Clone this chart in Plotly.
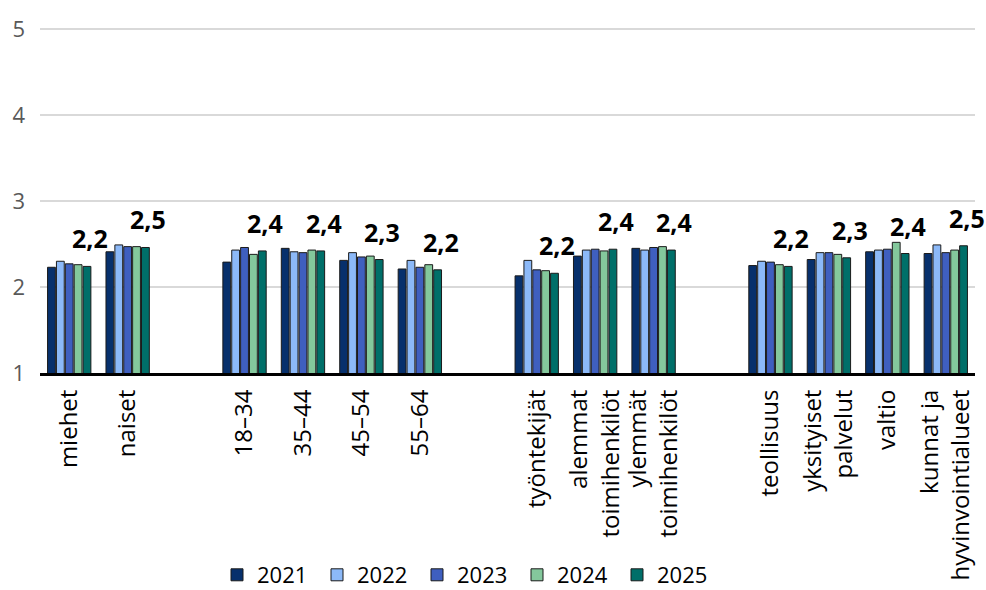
import plotly.graph_objects as go

# Category groups along the x axis (a blank slot separates the groups)
gender = ["miehet", "naiset"]
age = ["18–34", "35–44", "45–54", "55–64"]
occupation = ["työntekijät", "alemmat<br>toimihenkilöt", "ylemmät<br>toimihenkilöt"]
sector = ["teollisuus", "yksityiset<br>palvelut", "valtio", "kunnat ja<br>hyvinvointialueet"]

years = ["2021", "2022", "2023", "2024", "2025"]

# Mean values per year, in category order (gender, age, occupation, sector)
v2021 = [2.23, 2.41, 2.29, 2.45, 2.31, 2.21, 2.13, 2.36, 2.45, 2.25, 2.32, 2.41, 2.39]
v2022 = [2.30, 2.49, 2.43, 2.41, 2.40, 2.31, 2.31, 2.43, 2.43, 2.30, 2.40, 2.43, 2.49]
v2023 = [2.27, 2.47, 2.46, 2.40, 2.35, 2.23, 2.20, 2.44, 2.46, 2.29, 2.40, 2.44, 2.40]
v2024 = [2.26, 2.47, 2.38, 2.43, 2.36, 2.26, 2.19, 2.42, 2.47, 2.26, 2.38, 2.52, 2.43]
v2025 = [2.24, 2.46, 2.42, 2.42, 2.32, 2.20, 2.16, 2.44, 2.43, 2.24, 2.34, 2.39, 2.48]

y_ticks = [1, 2, 3, 4, 5]

colors = ["#07306c", "#8cb9f8", "#3f5fbf", "#84c89c", "#006f69"]
series = [v2021, v2022, v2023, v2024, v2025]

# Slot positions: consecutive within a group, one empty slot between groups
categories, positions = [], []
slot = 0
for grp in (gender, age, occupation, sector):
    for name in grp:
        categories.append(name)
        positions.append(slot)
        slot += 1
    slot += 1
n_slots = slot - 1

FONT = "Open Sans"
BARGAP = 0.24
BARGROUPGAP = 0.12

fig = go.Figure()
for year, vals, col in zip(years, series, colors):
    fig.add_trace(go.Bar(
        x=positions, y=vals, name=year,
        marker=dict(color=col, line=dict(color="#1b1b1b", width=1)),
    ))

# Value labels above the 2025 bar of each category
bar_slot = (1 - BARGAP) / len(years)
offset_last = (len(years) - 1) / 2 * bar_slot
for x, v in zip(positions, v2025):
    fig.add_annotation(
        x=x + offset_last, y=v, xref="x", yref="y",
        text=f"<b>{v:.1f}</b>".replace(".", ","),
        showarrow=False, yanchor="bottom", xanchor="center",
        yshift=9, xshift=3,
        font=dict(family=FONT, size=25, color="#000000"),
    )

fig.update_layout(
    width=986, height=590,
    margin=dict(l=40, r=11, t=27, b=217, autoexpand=False),
    paper_bgcolor="white", plot_bgcolor="white",
    barmode="group", bargap=BARGAP, bargroupgap=BARGROUPGAP,
    font=dict(family=FONT, size=22, color="#000000"),
    showlegend=True,
    legend=dict(
        orientation="h", xref="container", yref="container",
        x=217 / 986, xanchor="left", y=15 / 590, yanchor="middle",
        font=dict(family=FONT, size=22, color="#000000"),
        entrywidth=55, entrywidthmode="pixels",
        traceorder="normal", bgcolor="rgba(0,0,0,0)",
    ),
)

fig.update_xaxes(
    range=[-0.5, n_slots - 0.5],
    tickmode="array", tickvals=positions, ticktext=categories,
    tickangle=-90, ticks="", showgrid=False, zeroline=False,
    showline=True, linecolor="#000000", linewidth=3,
    tickfont=dict(family=FONT, size=24, color="#000000"),
    ticklabelstandoff=4,
)
fig.update_yaxes(
    range=[1, 5.025], tickmode="array", tickvals=y_ticks,
    showgrid=True, gridcolor="#d9d9d9", gridwidth=2,
    zeroline=False, showline=False, ticks="",
    tickfont=dict(family=FONT, size=22, color="#595959"),
    ticklabelstandoff=14,
)

fig.write_html("out.html")
